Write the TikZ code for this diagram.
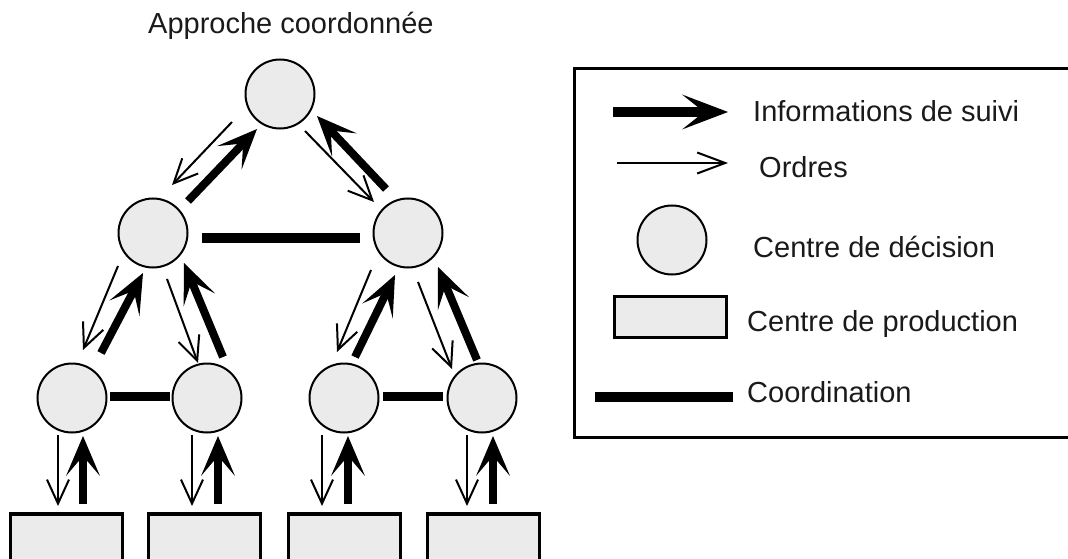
\documentclass[tikz,border=0pt]{standalone}
\usepackage{fontspec}
\setmainfont{Liberation Sans}
\usetikzlibrary{arrows.meta}
\definecolor{cellfill}{HTML}{EBEBEB}
\definecolor{inkgray}{HTML}{1A1A1A}

\begin{document}
\begin{tikzpicture}[x=1pt,y=-1pt,
  decision/.style={circle,draw=black,line width=2pt,fill=cellfill,minimum size=69pt,inner sep=0pt},
  production/.style={rectangle,draw=black,line width=3.5pt,fill=cellfill,minimum width=112pt,minimum height=70pt,inner sep=0pt},
  suivi/.style={line width=8pt,-{Stealth[length=40pt,width=34pt,inset=20pt,line width=0pt]}},
  ordre/.style={line width=2pt,-{Straight Barb[length=24pt,width=22pt]}},
  coordbar/.style={line width=10pt},
  legendtext/.style={font=\fontsize{29}{34}\selectfont,anchor=base west,inner sep=0pt,text=inkgray}
]
\useasboundingbox (0,0) rectangle (1068,559);
\clip (0,0) rectangle (1068,559);

% title
\node[legendtext] (title) at (148,34) {Approche coordonnée};

% decision centres
\node[decision] (top) at (280,94) {};
\node[decision] (ml) at (153,233) {};
\node[decision] (mr) at (408,233) {};
\node[decision] (b1) at (72,398) {};
\node[decision] (b2) at (207,398) {};
\node[decision] (b3) at (344,398) {};
\node[decision] (b4) at (482,398) {};

% production centres
\node[production] (p1) at (66.5,549) {};
\node[production] (p2) at (204.5,549) {};
\node[production] (p3) at (344.5,549) {};
\node[production] (p4) at (483.5,549) {};

% coordination links
\path (ml.east) ++(13,5) coordinate (cm1) (mr.west) ++(-13,5) coordinate (cm2);
\draw[coordbar] (cm1) -- (cm2);
\coordinate (cb1) at (110,396.5); \coordinate (cb2) at (170,396.5);
\coordinate (cb3) at (383,396.5); \coordinate (cb4) at (443,396.5);
\draw[coordbar,line width=9pt] (cb1) -- (cb2);
\draw[coordbar,line width=9pt] (cb3) -- (cb4);

% top level exchanges
\coordinate (oTL1) at (232,122); \coordinate (oTL2) at (172,185);
\coordinate (sTL1) at (188,201); \coordinate (sTL2) at (257,129);
\coordinate (oTR1) at (305,131); \coordinate (oTR2) at (374,202);
\coordinate (sTR1) at (386,189); \coordinate (sTR2) at (317,116);
\draw[ordre] (oTL1) -- (oTL2);
\draw[suivi] (sTL1) -- (sTL2);
\draw[ordre] (oTR1) -- (oTR2);
\draw[suivi] (sTR1) -- (sTR2);

% middle level exchanges, left branch
\coordinate (oL11) at (118,266); \coordinate (oL12) at (83,350);
\coordinate (sL11) at (101,353); \coordinate (sL12) at (143,273);
\coordinate (oL21) at (167,279); \coordinate (oL22) at (198,363);
\coordinate (sL21) at (223,357); \coordinate (sL22) at (184,263);
\draw[ordre] (oL11) -- (oL12);
\draw[suivi] (sL11) -- (sL12);
\draw[ordre] (oL21) -- (oL22);
\draw[suivi] (sL21) -- (sL22);

% middle level exchanges, right branch
\coordinate (oR11) at (371,270); \coordinate (oR12) at (337,352);
\coordinate (sR11) at (355,357); \coordinate (sR12) at (395,275);
\coordinate (oR21) at (418,282); \coordinate (oR22) at (452,369);
\coordinate (sR21) at (477,360); \coordinate (sR22) at (438,267);
\draw[ordre] (oR11) -- (oR12);
\draw[suivi] (sR11) -- (sR12);
\draw[ordre] (oR21) -- (oR22);
\draw[suivi] (sR21) -- (sR22);

% exchanges with production centres
\foreach \k/\xo/\xs in {1/58/83, 2/192/218, 3/322/348, 4/467/493}{
  \coordinate (od\k a) at (\xo,435); \coordinate (od\k b) at (\xo,506);
  \coordinate (su\k a) at (\xs,504); \coordinate (su\k b) at (\xs,436);
  \draw[ordre] (od\k a) -- (od\k b);
  \draw[suivi] (su\k a) -- (su\k b);
}

% legend
\draw[line width=3pt] (574,69) rectangle (1100,437);
\coordinate (lgS1) at (613,112); \coordinate (lgS2) at (728,112);
\draw[line width=10pt,-{Stealth[length=46pt,width=35pt,inset=22pt,line width=0pt]}] (lgS1) -- (lgS2);
\coordinate (lgO1) at (617,163); \coordinate (lgO2) at (728,163);
\draw[line width=2pt,-{Straight Barb[length=28pt,width=21pt]}] (lgO1) -- (lgO2);
\node[decision] (lgD) at (672,240) {};
\node[production,line width=3pt,minimum width=112pt,minimum height=41pt] (lgP) at (670.5,317) {};
\coordinate (lgC1) at (595,397); \coordinate (lgC2) at (733,397);
\draw[coordbar] (lgC1) -- (lgC2);

\node[legendtext] (tS) at (753,122) {Informations de suivi};
\node[legendtext] (tO) at (759,177) {Ordres};
\node[legendtext] (tD) at (753,257) {Centre de décision};
\node[legendtext] (tP) at (747,331) {Centre de production};
\node[legendtext] (tC) at (747,402) {Coordination};
\end{tikzpicture}
\end{document}
